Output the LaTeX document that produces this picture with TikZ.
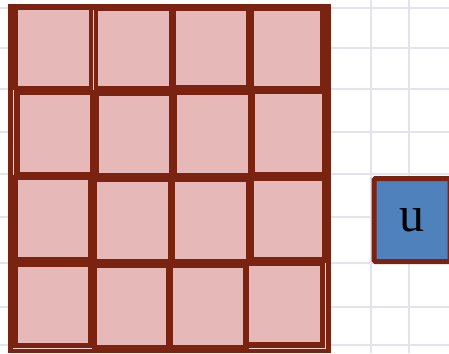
\documentclass[tikz,border=0pt]{standalone}
\usepackage{fontspec}
\newfontfamily\unitfont{Liberation Serif}
\usepackage{tikz}
\definecolor{gdframe}{HTML}{7A2310}
\definecolor{gdpink}{HTML}{E6B8B7}
\definecolor{gdblue}{HTML}{4F81BD}
\definecolor{gdline}{HTML}{E3E3F0}
\definecolor{gdpale}{HTML}{EED6D6}
\tikzset{
  cell/.style={fill=gdpink},
  unitbox/.style={draw=gdframe, line width=5pt, rounded corners=1.5pt, fill=gdblue,
                  minimum width=76pt, minimum height=83pt, inner sep=0pt,
                  font=\unitfont\fontsize{50}{50}\selectfont}
}
\begin{document}
\begin{tikzpicture}[x=1pt,y=-1pt]
          \useasboundingbox (0,0) rectangle (449,353);
          % background grid
          \foreach \y in {8,48,89,132,174,217,263,307,345} \draw[gdline, line width=1.4pt] (0,\y)--(449,\y);
          \foreach \x in {371,409} \draw[gdline, line width=1.4pt] (\x,0)--(\x,353);
          % frame
          \fill[gdframe] (8,4) rectangle (331,353);
          % cells
          \foreach \a/\b/\c/\d in {18/10/89/86, 98/11/169/86, 176/11/246/85, 254/11/320/86,
                                   20/95/90/172, 99/96/169/173, 177/95/248/173, 255/94/322/172,
                                   18/180/88/257, 97/182/168/259, 175/182/246/259, 254/181/322/257,
                                   18/267/88/343, 97/268/166/345, 173/268/243/345, 249/266/320/342}
            \fill[cell] (\a,\b) rectangle (\c,\d);
          % pale seams
          \draw[gdpale, line width=0.7pt] (13,90)--(13,175) (93,10)--(93,90);
          \draw[gdpale, line width=0.7pt] (13,348)--(92,348) (249,348)--(325,348)--(325,263);
          % unit
          \node[unitbox] (u) at (412,220) {u};
        \end{tikzpicture}
\end{document}
